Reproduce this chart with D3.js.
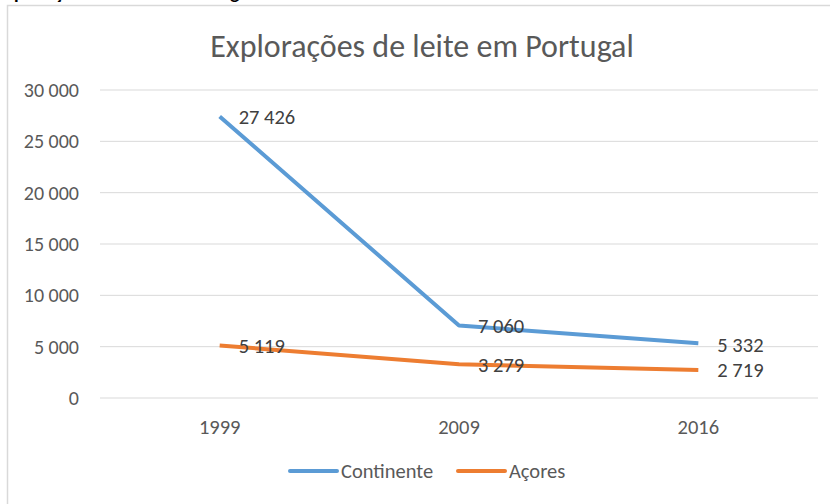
<!DOCTYPE html>
<html>
<head>
<meta charset="utf-8">
<script src="https://cdn.jsdelivr.net/npm/d3@7"></script>
<style>
  body { margin: 0; background: #fff; }
  svg { display: block; }
</style>
</head>
<body>
<div id="chart"></div>
<script>
// data
var years = ["1999", "2009", "2016"];
var continente = [27426, 7060, 5332];
var acores = [5119, 3279, 2719];
var seriesNames = ["Continente", "Açores"];
var yTicks = [0, 5000, 10000, 15000, 20000, 25000, 30000];

var width = 830, height = 504;
var font = "Carlito, Calibri, 'Open Sans', sans-serif";
var colors = ["#5B9BD5", "#ED7D31"];

var svg = d3.select("#chart").append("svg")
    .attr("width", width)
    .attr("height", height);

// bit of page heading that is cut off above the chart frame
svg.append("text")
    .attr("x", -4)
    .attr("y", -1)
    .attr("font-family", font)
    .attr("font-weight", "bold")
    .attr("font-size", 19)
    .attr("fill", "#000")
    .text("Explorações de leite em Portugal");

// chart frame (runs past the right and bottom edges)
svg.append("rect")
    .attr("x", 7.5).attr("y", 5.5)
    .attr("width", 840).attr("height", 520)
    .attr("fill", "#fff")
    .attr("stroke", "#d9d9d9")
    .attr("stroke-width", 1.5);

var plot = { left: 100, right: 818, top: 90, bottom: 398 };

var x = d3.scaleBand()
    .domain(years)
    .range([plot.left, plot.right]);

var y = d3.scaleLinear()
    .domain([0, 30000])
    .range([plot.bottom, plot.top]);

var fmt = function(v) { return d3.format(",")(v).replace(/,/g, " "); };

// title
svg.append("text")
    .attr("x", 422)
    .attr("y", 57)
    .attr("text-anchor", "middle")
    .attr("font-family", font)
    .attr("font-size", 32)
    .attr("fill", "#595959")
    .text("Explorações de leite em Portugal");

// gridlines
svg.append("g")
    .selectAll("line")
    .data(yTicks)
    .enter().append("line")
    .attr("x1", plot.left).attr("x2", plot.right)
    .attr("y1", function(d) { return y(d); })
    .attr("y2", function(d) { return y(d); })
    .attr("stroke", "#d9d9d9")
    .attr("stroke-width", 1);

// y axis labels
var yAxis = svg.append("g")
    .attr("transform", "translate(" + (plot.left - 18) + ",0)")
    .call(d3.axisLeft(y).tickValues(yTicks).tickSize(0).tickFormat(fmt));
yAxis.select(".domain").remove();
yAxis.selectAll("text")
    .attr("font-family", font)
    .attr("font-size", 20)
    .attr("fill", "#595959");

// x axis labels
var xAxis = svg.append("g")
    .attr("transform", "translate(0," + (plot.bottom + 18) + ")")
    .call(d3.axisBottom(x).tickSize(0));
xAxis.select(".domain").remove();
xAxis.selectAll("text")
    .attr("font-family", font)
    .attr("font-size", 20.5)
    .attr("fill", "#595959");

var series = [continente, acores];
var cx = function(d, i) { return x(years[i]) + x.bandwidth() / 2; };

var line = d3.line()
    .x(cx)
    .y(function(d) { return y(d); });

series.forEach(function(s, k) {
  svg.append("path")
      .datum(s)
      .attr("d", line)
      .attr("fill", "none")
      .attr("stroke", colors[k])
      .attr("stroke-width", 4)
      .attr("stroke-linejoin", "round");
});

// data labels, to the right of each point
series.forEach(function(s, k) {
  svg.append("g")
      .selectAll("text")
      .data(s)
      .enter().append("text")
      .attr("x", function(d, i) { return cx(d, i) + 19; })
      .attr("y", function(d, i) { return y(d) + (k === 0 && i === 2 ? 2 : 0); })
      .attr("dy", "0.35em")
      .attr("font-family", font)
      .attr("font-size", 20.5)
      .attr("fill", "#404040")
      .text(fmt);
});

// legend
var legendX = [290, 458];
var legend = svg.append("g")
    .selectAll("g")
    .data(seriesNames)
    .enter().append("g")
    .attr("transform", function(d, i) { return "translate(" + legendX[i] + ",471)"; });
legend.append("line")
    .attr("x1", 0).attr("x2", 47)
    .attr("stroke", function(d, i) { return colors[i]; })
    .attr("stroke-width", 4)
    .attr("stroke-linecap", "round");
legend.append("text")
    .attr("x", 51)
    .attr("dy", "0.35em")
    .attr("font-family", font)
    .attr("font-size", 20.5)
    .attr("fill", "#595959")
    .text(function(d) { return d; });
</script>
</body>
</html>
